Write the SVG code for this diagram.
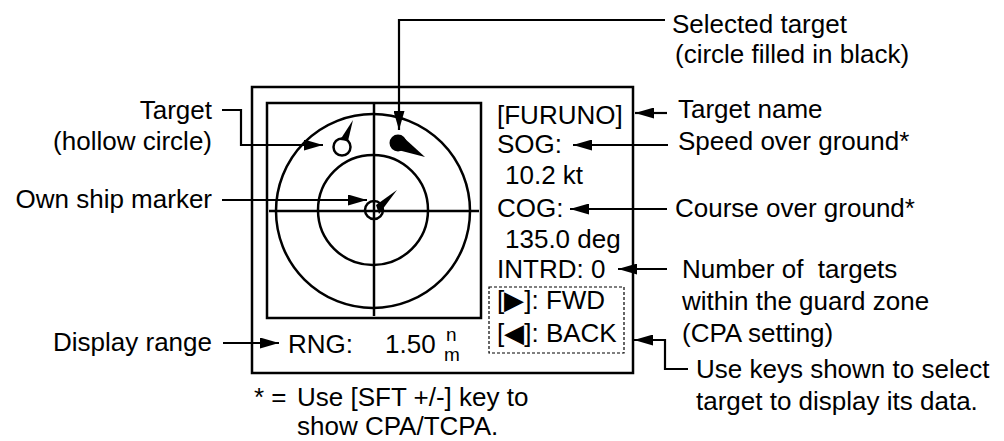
<svg xmlns="http://www.w3.org/2000/svg" width="1004" height="441" viewBox="0 0 1004 441">
<defs>
<marker id="ah" markerWidth="19" markerHeight="11" refX="19" refY="5.5" orient="auto" markerUnits="userSpaceOnUse">
<path d="M0,0 L19,5.5 L0,11 Z" fill="#000"/>
</marker>
<style>
text{font-family:"Liberation Sans",Arial,sans-serif;font-size:26px;fill:#000}
.end{text-anchor:end}
.sm{font-size:19px}
.ln{fill:none;stroke:#000;stroke-width:2.5}
.cn{fill:none;stroke:#000;stroke-width:2.2;marker-end:url(#ah)}
</style>
</defs>
<rect width="1004" height="441" fill="#fff"/>
<g id="display">
<rect x="252" y="87" width="381" height="286" class="ln"/>
<rect x="267" y="103" width="214" height="215" class="ln"/>
<circle cx="373" cy="211" r="97" class="ln"/>
<circle cx="373" cy="210" r="55" class="ln"/>
<line x1="269" y1="211" x2="479" y2="211" class="ln"/>
<line x1="374" y1="103" x2="374" y2="316" class="ln"/>
<rect x="489" y="287" width="135" height="66" fill="none" stroke="#000" stroke-width="1.2" stroke-dasharray="3,2"/>
</g>
<g id="own-ship">
<circle cx="374" cy="210" r="9" class="ln"/>
<polygon points="379,214 397,190 376,205" fill="#000"/>
</g>
<g id="target-hollow">
<circle cx="342" cy="147" r="8.5" fill="#fff" stroke="#000" stroke-width="2.5"/>
<polygon points="340,140 353,120 348,141" fill="#000"/>
</g>
<g id="target-selected">
<circle cx="398" cy="143" r="8.5" fill="#000"/>
<polygon points="403,137 425,157 398,150" fill="#000"/>
</g>
<g id="data-text">
<text x="497" y="124">[FURUNO]</text>
<text x="497" y="153">SOG:</text>
<text x="505" y="184">10.2 kt</text>
<text x="497" y="217">COG:</text>
<text x="505" y="248">135.0 deg</text>
<text x="497" y="278">INTRD: 0</text>
<text x="497" y="309">[▶]: FWD</text>
<text x="497" y="342">[◀]: BACK</text>
<text x="288" y="353">RNG:</text>
<text x="385" y="353">1.50</text>
<text x="446" y="341" class="sm">n</text>
<text x="444" y="361" class="sm">m</text>
</g>
<g id="labels">
<text x="672" y="33">Selected target</text>
<text x="675" y="63">(circle filled in black)</text>
<text x="678" y="118">Target name</text>
<text x="678" y="150">Speed over ground*</text>
<text x="675" y="217">Course over ground*</text>
<text x="682" y="278" xml:space="preserve">Number of  targets</text>
<text x="682" y="310">within the guard zone</text>
<text x="682" y="342">(CPA setting)</text>
<text x="696" y="378">Use keys shown to select</text>
<text x="696" y="410">target to display its data.</text>
<text x="212" y="119" class="end">Target</text>
<text x="212" y="150" class="end">(hollow circle)</text>
<text x="212" y="208" class="end">Own ship marker</text>
<text x="212" y="351" class="end">Display range</text>
<text x="254" y="406" xml:space="preserve">* =</text>
<text x="297" y="406">Use [SFT +/-] key to</text>
<text x="297" y="435">show CPA/TCPA.</text>
</g>
<g id="connectors">
<polyline points="665,20 399,20 399,130" class="cn"/>
<polyline points="222,110 241,110 241,145 323,145" class="cn"/>
<polyline points="222,200 367,200" class="cn"/>
<polyline points="223,343 279,343" class="cn"/>
<polyline points="667,113 635,113" class="cn"/>
<polyline points="668,145 573,145" class="cn"/>
<polyline points="667,209 570,209" class="cn"/>
<polyline points="667,269 618,269" class="cn"/>
<polyline points="688,369 665,369 665,340 634,340" class="cn"/>
</g>
</svg>
